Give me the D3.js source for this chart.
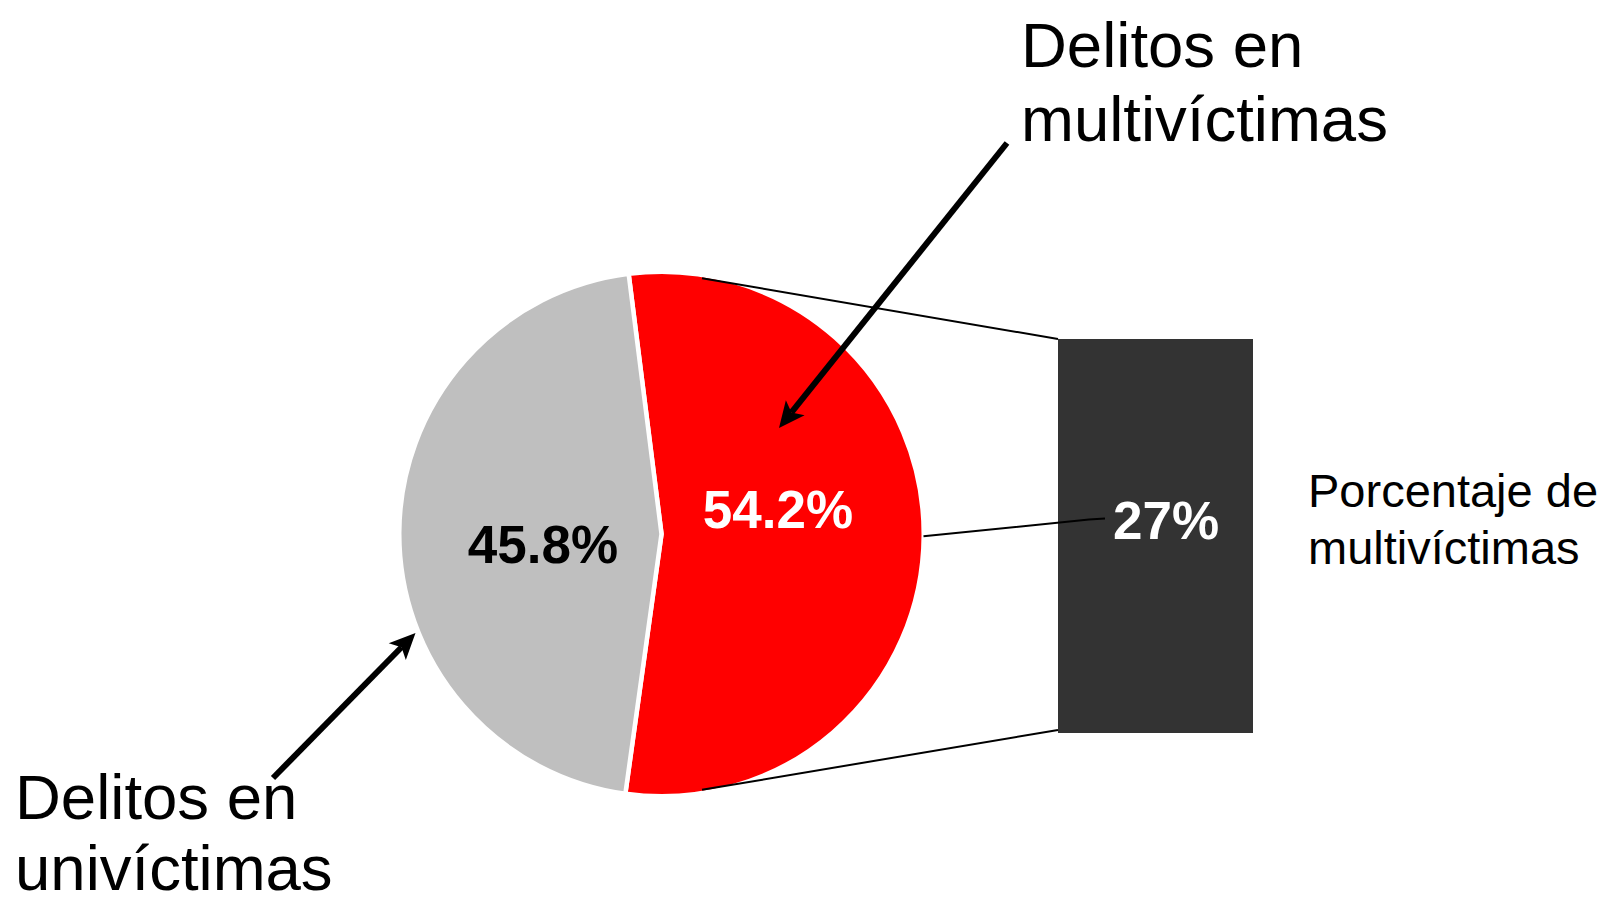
<!DOCTYPE html>
<html>
<head>
<meta charset="utf-8">
<script src="https://cdn.jsdelivr.net/npm/d3@7"></script>
<style>
  html, body { margin: 0; padding: 0; background: #ffffff; }
  svg { display: block; font-family: "Liberation Sans", Arial, sans-serif; }
</style>
</head>
<body>
<svg id="chart" width="1608" height="904"></svg>
<script>
// ---- data ----
const pieCategories = ["Delitos en multivíctimas", "Delitos en univíctimas"];
const pieValues = [54.2, 45.8];
const pieLabels = ["54.2%", "45.8%"];
const pieColors = ["#ff0000", "#bfbfbf"];
const pieLabelColors = ["#ffffff", "#000000"];

const barCategories = ["Porcentaje de multivíctimas"];
const barValues = [27];
const barLabels = ["27%"];
const barColor = "#333333";

const calloutTop = ["Delitos en", "multivíctimas"];
const calloutBottom = ["Delitos en", "univíctimas"];
const barLegend = ["Porcentaje de", "multivíctimas"];

// ---- layout ----
const svg = d3.select("#chart");
const cx = 661.5, cy = 534, r = 260;
const sep = 4.5;
const startDeg = -7.2;

const pie = d3.pie().sort(null).value(d => d)
  .startAngle(startDeg * Math.PI / 180)
  .endAngle(startDeg * Math.PI / 180 + 2 * Math.PI);
const arcs = pie(pieValues);
const arc = d3.arc().innerRadius(0).outerRadius(r + sep / 2);

const g = svg.append("g").attr("transform", `translate(${cx},${cy})`);
g.selectAll("path.slice").data(arcs).enter().append("path")
  .attr("class", "slice")
  .attr("d", arc)
  .attr("fill", (d, i) => pieColors[i])
  .attr("stroke", "#ffffff")
  .attr("stroke-width", sep)
  .attr("stroke-linejoin", "miter");

// ---- bar (bar-of-pie) ----
const barX = d3.scaleBand().domain(barCategories).range([1058, 1253]).padding(0);
const barY = d3.scaleLinear().domain([0, d3.max(barValues)]).range([733, 339]);
svg.selectAll("rect.bar").data(barValues).enter().append("rect")
  .attr("class", "bar")
  .attr("x", (d, i) => barX(barCategories[i]))
  .attr("width", barX.bandwidth())
  .attr("y", d => barY(d))
  .attr("height", d => barY(0) - barY(d))
  .attr("fill", barColor);

// connector lines from the pie to the bar
const connAng = 9 * Math.PI / 180;
const pt = (ang, rad) => [cx + rad * Math.sin(ang), cy - rad * Math.cos(ang)];
const topP = pt(connAng, r - 1), botP = pt(Math.PI - connAng, r - 1);
const bx0 = barX(barCategories[0]);
svg.append("line").attr("x1", topP[0]).attr("y1", topP[1])
  .attr("x2", bx0).attr("y2", barY(barValues[0]))
  .attr("stroke", "#000").attr("stroke-width", 2);
svg.append("line").attr("x1", botP[0]).attr("y1", botP[1])
  .attr("x2", bx0).attr("y2", barY(0) - 3)
  .attr("stroke", "#000").attr("stroke-width", 2);

// leader line from the red slice to the bar label
const lead = pt(Math.PI / 2 + 0.5 * Math.PI / 180, r + 2);
svg.append("path")
  .attr("d", d3.line()([[lead[0], lead[1]], [1089, 519.5], [1105, 518.5]]))
  .attr("fill", "none").attr("stroke", "#000").attr("stroke-width", 2);

// ---- value labels ----
const labelPos = [[778, 528], [543, 563]];
svg.selectAll("text.pl").data(pieLabels).enter().append("text")
  .attr("class", "pl")
  .attr("x", (d, i) => labelPos[i][0]).attr("y", (d, i) => labelPos[i][1])
  .attr("text-anchor", "middle")
  .attr("font-size", 53).attr("font-weight", "bold")
  .attr("fill", (d, i) => pieLabelColors[i])
  .text(d => d);

svg.selectAll("text.bl").data(barLabels).enter().append("text")
  .attr("class", "bl")
  .attr("x", 1166).attr("y", 539)
  .attr("text-anchor", "middle")
  .attr("font-size", 53).attr("font-weight", "bold")
  .attr("fill", "#ffffff")
  .text(d => d);

// ---- text callouts ----
function block(lines, x, y0, lh, size) {
  const t = svg.append("text").attr("font-size", size).attr("fill", "#000");
  lines.forEach((s, i) => t.append("tspan").attr("x", x).attr("y", y0 + i * lh).text(s));
}
block(calloutTop, 1021, 66.5, 74, 63.5);
block(calloutBottom, 15, 819, 71, 63.5);
block(barLegend, 1308, 507, 57, 47);

// ---- arrows ----
function arrow(x1, y1, x2, y2) {
  const dx = x2 - x1, dy = y2 - y1, L = Math.hypot(dx, dy);
  const ux = dx / L, uy = dy / L, px = -uy, py = ux;
  const hl = 26, hw = 12, notch = 6;
  const bxp = x2 - ux * hl, byp = y2 - uy * hl;
  svg.append("line").attr("x1", x1).attr("y1", y1)
    .attr("x2", x2 - ux * (hl - notch)).attr("y2", y2 - uy * (hl - notch))
    .attr("stroke", "#000").attr("stroke-width", 6);
  const pts = [
    [x2, y2],
    [bxp + px * hw, byp + py * hw],
    [x2 - ux * (hl - notch), y2 - uy * (hl - notch)],
    [bxp - px * hw, byp - py * hw]
  ];
  svg.append("polygon").attr("points", pts.map(p => p.join(",")).join(" ")).attr("fill", "#000");
}
arrow(1007, 143, 779, 428);
arrow(273, 778, 415.5, 633);
</script>
</body>
</html>
